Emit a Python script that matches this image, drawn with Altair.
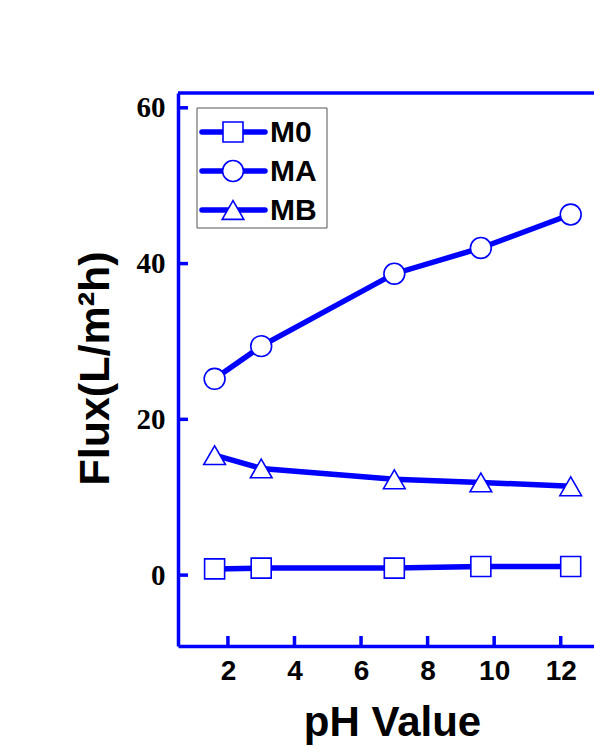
import altair as alt
import pandas as pd

# ---- data ----
ph_values = [1.6, 3.0, 7.0, 9.6, 12.3]
flux_m0 = [0.8, 0.9, 0.9, 1.1, 1.1]
flux_ma = [25.2, 29.4, 38.7, 42.0, 46.3]
flux_mb = [15.4, 13.7, 12.3, 11.9, 11.4]
series_names = ["M0", "MA", "MB"]
series_shapes = ["square", "circle", "triangle-up"]
x_ticks = [2, 4, 6, 8, 10, 12]
y_ticks = [0, 20, 40, 60]

BLUE = "#0000FF"
W, H = 416, 553

rows = []
for name, vals in zip(series_names, [flux_m0, flux_ma, flux_mb]):
    for x, y in zip(ph_values, vals):
        rows.append({"series": name, "ph": x, "flux": y})
df = pd.DataFrame(rows)

xs = alt.Scale(domain=[0.5, 13.0], nice=False, zero=False)
ys = alt.Scale(domain=[-9.1, 61.9], nice=False, zero=False)
shape_scale = alt.Scale(domain=series_names, range=series_shapes)
size_scale = alt.Scale(domain=series_names, range=[400, 470, 680])

x_enc = alt.X("ph:Q", scale=xs, axis=alt.Axis(
    values=x_ticks, ticks=False, grid=False, domainColor=BLUE, domainWidth=3.5,
    labelFont="Liberation Sans", labelFontWeight="bold", labelFontSize=28,
    labelColor="black", labelPadding=11,
    title="pH Value", titleFont="Liberation Sans", titleFontWeight="bold",
    titleFontSize=42, titleColor="black", titleX=214, titleY=89,
    titleBaseline="alphabetic"))
y_enc = alt.Y("flux:Q", scale=ys, axis=alt.Axis(
    values=y_ticks, ticks=False, grid=False, domainColor=BLUE, domainWidth=3.5,
    labelFont="Liberation Serif", labelFontWeight="bold", labelFontSize=29,
    labelColor="black", labelPadding=13,
    title="Flux(L/m²h)", titleFont="Liberation Sans", titleFontWeight="bold",
    titleFontSize=43, titleColor="black", titleAngle=-90, titleX=-70,
    titleY=275, titleAlign="center", titleBaseline="alphabetic"))

lines = alt.Chart(df).mark_line(color=BLUE, strokeWidth=5.5).encode(
    x=x_enc, y=y_enc, detail="series:N")
points = alt.Chart(df).mark_point(
    filled=True, fill="white", stroke=BLUE, strokeWidth=1.6, opacity=1
).encode(
    x=alt.X("ph:Q", scale=xs), y=alt.Y("flux:Q", scale=ys),
    shape=alt.Shape("series:N", scale=shape_scale, legend=None),
    size=alt.Size("series:N", scale=size_scale, legend=None))

ytick_df = pd.DataFrame({"v": y_ticks})
xtick_df = pd.DataFrame({"v": x_ticks})
yticks = alt.Chart(ytick_df).mark_rule(color=BLUE, strokeWidth=3.5).encode(
    y=alt.Y("v:Q", scale=ys), x=alt.value(0), x2=alt.value(10))
xticks = alt.Chart(xtick_df).mark_rule(color=BLUE, strokeWidth=3.5).encode(
    x=alt.X("v:Q", scale=xs), y=alt.value(H), y2=alt.value(H - 10))
top_border = alt.Chart(pd.DataFrame({"a": [0]})).mark_rule(
    color=BLUE, strokeWidth=3.5).encode(
    x=alt.value(0), x2=alt.value(W), y=alt.value(0))

main = alt.layer(lines, points, yticks, xticks, top_border)

# ---- legend ----
leg_df = pd.DataFrame({"series": series_names,
                       "row": list(range(len(series_names)))})
leg_y = alt.Y("row:Q", scale=alt.Scale(domain=[0, 2], range=[39, 117],
                                       nice=False, zero=False), axis=None)
leg_box = alt.Chart(pd.DataFrame({"a": [0]})).mark_rect(
    fill="white", stroke="#555555", strokeWidth=1).encode(
    x=alt.value(19), x2=alt.value(149), y=alt.value(15), y2=alt.value(135))
leg_lines = alt.Chart(leg_df).mark_rule(color=BLUE, strokeWidth=5.5,
                                        strokeCap="round").encode(
    y=leg_y, x=alt.value(24), x2=alt.value(87))
leg_points = alt.Chart(leg_df).mark_point(
    filled=True, fill="white", stroke=BLUE, strokeWidth=1.6, opacity=1
).encode(
    y=leg_y, x=alt.value(55),
    shape=alt.Shape("series:N", scale=shape_scale, legend=None),
    size=alt.Size("series:N", scale=size_scale, legend=None))
leg_text = alt.Chart(leg_df).mark_text(
    align="left", baseline="middle", font="Liberation Sans",
    fontWeight="bold", fontSize=30, color="black", dy=1).encode(
    y=leg_y, x=alt.value(92), text="series:N")

legend = alt.layer(leg_box, leg_lines, leg_points, leg_text)

chart = alt.layer(main, legend).resolve_scale(
    y="independent", shape="shared", size="shared"
).properties(
    width=W, height=H, autosize="none",
    padding={"left": 178, "top": 93, "right": 0, "bottom": 100},
    background="white"
).configure_view(stroke=None)

chart.save("out.html", embed_options={"renderer": "svg", "actions": False})
